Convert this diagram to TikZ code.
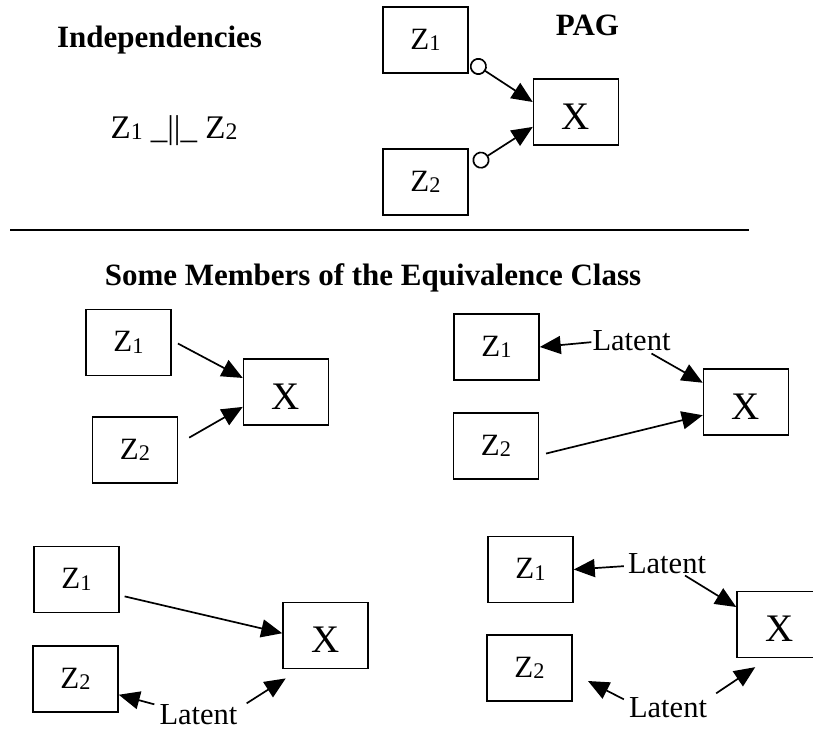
\documentclass[tikz,border=0pt]{standalone}
\usepackage{fontspec}
\setmainfont{Liberation Serif}
\usepackage{graphicx}
\usetikzlibrary{arrows.meta}
\newcommand\sbs[1]{\raisebox{-0.05em}{\scalebox{0.72}{#1}}}
\begin{document}
\begin{tikzpicture}[x=1pt,y=-1pt,
  box/.style={draw, line width=1.5pt, minimum width=85pt, minimum height=66pt, inner sep=0pt, font=\fontsize{31}{37}\selectfont},
  xbox/.style={box, font=\fontsize{39}{45}\selectfont, text height=34pt, text depth=0pt},
  lat/.style={inner sep=0pt, anchor=base, font=\fontsize{30.5}{36}\selectfont},
  ttl/.style={inner sep=0pt, anchor=base, font=\fontsize{31}{37}\selectfont\bfseries},
  indep/.style={inner sep=0pt, anchor=base, font=\fontsize{33}{40}\selectfont},
  arr/.style={line width=1.7pt, -{Triangle[length=21pt,width=18pt]}},
  parr/.style={line width=1.7pt, {Circle[open,length=17pt,width=17pt]}-{Triangle[length=21pt,width=18pt]}},
]
\clip (0,0) rectangle (813,731);

% top: independencies and PAG
\node[ttl] (ind) at (159.5,47) {Independencies};
\node[indep] (indtxt) at (174,138) {Z\sbs{1} \_||\_ Z\sbs{2}};
\node[ttl] (pag) at (587.5,35) {PAG};
\node[box] (pz1) at (425.5,40) {Z\sbs{1}};
\node[xbox] (px) at (576,112) {X};
\node[box] (pz2) at (425.5,182) {Z\sbs{2}};
\draw[parr, shorten <=3pt] (pz1.-25) -- (px.167);
\draw[parr, shorten <=6pt] (pz2.18) -- (px.199);

% separator
\coordinate (sepL) at (10,230);
\coordinate (sepR) at (749,230);
\draw[line width=2.5pt] (sepL) -- (sepR);
\node[ttl] (smt) at (373,285) {Some Members of the Equivalence Class};

% member A
\node[box] (az1) at (128.5,342.5) {Z\sbs{1}};
\node[xbox] (ax) at (286,392) {X};
\node[box] (az2) at (135,450) {Z\sbs{2}};
\draw[arr, shorten <=7pt] (az1.3) -- (ax.162);
\draw[arr, shorten <=12.6pt] (az2.8) -- (ax.199);

% member B
\node[box] (bz1) at (496.5,347) {Z\sbs{1}};
\node[box] (bz2) at (496,446) {Z\sbs{2}};
\node[xbox] (bx) at (746,402) {X};
\node[lat] (blat) at (631.5,350) {Latent};
\draw[arr] ([xshift=-1pt,yshift=-2pt]blat.west) -- (bz1.east);
\draw[arr] ([xshift=20pt,yshift=-3pt]blat.south) -- (bx.156);
\draw[arr, shorten <=7pt] (bz2.-12) -- (bx.197);

% member C
\node[box] (cz1) at (76.5,579.5) {Z\sbs{1}};
\node[box] (cz2) at (75.5,679) {Z\sbs{2}};
\node[xbox] (cx) at (325.5,635.5) {X};
\node[lat] (clat) at (198.5,724.5) {Latent};
\draw[arr, shorten <=5pt] (cz1.-20) -- (cx.177);
\draw[arr] ([xshift=-5pt,yshift=0pt]clat.north west) -- (cz2.-20);
\draw[arr, shorten >=17pt] ([xshift=9pt,yshift=1pt]clat.north east) -- (cx.-127);

% member D
\node[box] (dz1) at (530.5,569.5) {Z\sbs{1}};
\node[box] (dz2) at (529.5,668) {Z\sbs{2}};
\node[xbox] (dxx) at (779.5,624.5) {X};
\node[lat] (dlat1) at (667,573) {Latent};
\node[lat] (dlat2) at (668,717) {Latent};
\coordinate (dend) at (588,681);
\draw[arr] ([xshift=-4pt,yshift=-3pt]dlat1.west) -- (dz1.east);
\draw[arr] ([xshift=18pt,yshift=-2pt]dlat1.south) -- (dxx.158);
\draw[arr] ([xshift=-5pt,yshift=-2.5pt]dlat2.north west) -- (dend);
\draw[arr, shorten >=16pt] ([xshift=9pt,yshift=3.5pt]dlat2.north east) -- (dxx.-108);
\end{tikzpicture}
\end{document}
